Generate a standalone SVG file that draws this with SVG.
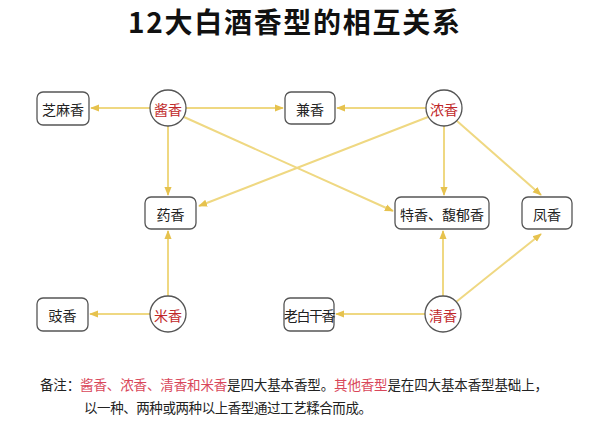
<svg xmlns="http://www.w3.org/2000/svg" width="589" height="421" viewBox="0 0 589 421">
<defs>
<style>
.bg{fill:#ffffff}
.title{font-family:"Noto Sans CJK SC","Liberation Serif",serif;font-size:28px;font-weight:bold;fill:#111}
.box{fill:#ffffff;stroke:#555;stroke-width:1.3}
.circ{fill:#ffffff;stroke:#555;stroke-width:1.3}
.t{font-family:"Noto Sans CJK SC","Liberation Serif",serif;font-size:14px;fill:#222;text-anchor:middle;dominant-baseline:central}
.r{fill:#c0282a}
.e{stroke:#efd882;stroke-width:2;fill:none;marker-end:url(#ah)}
.note{font-family:"Noto Sans CJK SC","Liberation Serif",serif;font-size:13.5px;fill:#222}
.nr{fill:#d9475a}
</style>
<marker id="ah" viewBox="0 0 10 10" refX="9" refY="5" markerWidth="9" markerHeight="9" markerUnits="userSpaceOnUse" orient="auto">
<path d="M0,1 L10,5 L0,9 z" fill="#e6c24e"/>
</marker>
</defs>
<rect class="bg" x="0" y="0" width="589" height="421"/>
<text class="title" x="294" y="33" text-anchor="middle" textLength="332" lengthAdjust="spacing">12大白酒香型的相互关系</text>

<g id="connectors">
<line class="e" x1="150" y1="108" x2="91" y2="108"/>
<line class="e" x1="186" y1="108" x2="283" y2="108"/>
<line class="e" x1="427" y1="108" x2="337" y2="108"/>
<line class="e" x1="168" y1="126" x2="168" y2="195"/>
<line class="e" x1="184" y1="117" x2="393" y2="211"/>
<line class="e" x1="428" y1="117" x2="199" y2="206"/>
<line class="e" x1="444" y1="126" x2="444" y2="195"/>
<line class="e" x1="457" y1="121" x2="541" y2="195"/>
<line class="e" x1="168" y1="296" x2="168" y2="231"/>
<line class="e" x1="150" y1="314" x2="90" y2="314"/>
<line class="e" x1="425" y1="314" x2="336" y2="314"/>
<line class="e" x1="443" y1="296" x2="443" y2="231"/>
<line class="e" x1="456" y1="302" x2="541" y2="234"/>
</g>

<g id="n-zhima"><rect class="box" x="37" y="92" width="52" height="33" rx="6"/><text class="t" x="63" y="108.5">芝麻香</text></g>
<g id="n-jiang"><circle class="circ" cx="168" cy="108" r="18"/><text class="t r" x="168" y="108.5">酱香</text></g>
<g id="n-jian"><rect class="box" x="285" y="92" width="50" height="32" rx="6"/><text class="t" x="310" y="108.5">兼香</text></g>
<g id="n-nong"><circle class="circ" cx="444" cy="108" r="18"/><text class="t r" x="444" y="108.5">浓香</text></g>
<g id="n-yao"><rect class="box" x="145" y="197" width="51" height="32" rx="6"/><text class="t" x="170.5" y="213.5">药香</text></g>
<g id="n-te"><rect class="box" x="395" y="197" width="94" height="32" rx="6"/><text class="t" x="442" y="213.5">特香、馥郁香</text></g>
<g id="n-feng"><rect class="box" x="522" y="197" width="50" height="32" rx="6"/><text class="t" x="547" y="213.5">凤香</text></g>
<g id="n-chi"><rect class="box" x="37" y="298" width="51" height="33" rx="6"/><text class="t" x="62.5" y="314.5">豉香</text></g>
<g id="n-mi"><circle class="circ" cx="168" cy="314" r="18"/><text class="t r" x="168" y="314.5">米香</text></g>
<g id="n-laobaigan"><rect class="box" x="284" y="298" width="50" height="33" rx="6"/><text class="t" x="309" y="314.5" style="letter-spacing:-1.5px">老白干香</text></g>
<g id="n-qing"><circle class="circ" cx="443" cy="314" r="18"/><text class="t r" x="443" y="314.5">清香</text></g>

<text class="note" x="40" y="390" textLength="508" lengthAdjust="spacing">备注：<tspan class="nr">酱香、浓香、清香和米香</tspan>是四大基本香型。<tspan class="nr">其他香型</tspan>是在四大基本香型基础上，</text>
<text class="note" x="84" y="413" textLength="288" lengthAdjust="spacing">以一种、两种或两种以上香型通过工艺糅合而成。</text>
</svg>
